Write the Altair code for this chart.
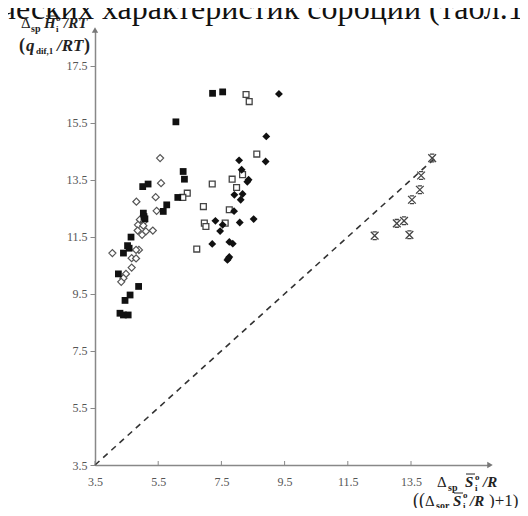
import altair as alt
import pandas as pd

SERIF = "Liberation Serif"

# ---- data ----
fs_x = [6.06, 6.29, 6.33, 6.12, 5.77, 5.66, 5.18, 5.01, 5.03, 5.05, 5.08, 4.64, 4.53, 4.58,
        4.40, 4.24, 4.88, 4.61, 4.45, 4.29, 4.40, 4.55, 7.22, 7.54]
fs_y = [15.53, 13.79, 13.52, 12.88, 12.62, 12.39, 13.35, 13.26, 12.33, 12.21, 12.13, 11.49, 11.19, 11.10,
        10.93, 10.20, 9.76, 9.46, 9.27, 8.82, 8.76, 8.76, 16.53, 16.58]

od_x = [5.56, 5.59, 5.42, 4.81, 5.45, 4.92, 5.05, 4.86, 5.03, 4.85, 5.11, 4.99, 5.33, 4.89,
        4.80, 4.66, 4.80, 4.66, 4.05, 4.48, 4.40, 4.33]
od_y = [14.26, 13.38, 12.89, 12.73, 12.41, 12.10, 12.04, 11.92, 11.89, 11.72, 11.69, 11.57, 11.72, 11.04,
        11.04, 10.75, 10.74, 10.42, 10.93, 10.20, 10.05, 9.92]

os_x = [8.28, 8.38, 8.62, 7.84, 7.21, 8.17, 7.98, 6.93, 7.75, 6.42, 6.28, 6.96, 7.01, 7.62, 6.72]
os_y = [16.49, 16.24, 14.40, 13.52, 13.35, 13.68, 13.23, 12.56, 12.45, 13.03, 12.88, 11.98, 11.86, 11.98, 11.07]

fd_x = [9.32, 8.92, 8.90, 8.06, 8.14, 8.36, 8.32, 7.91, 8.17, 8.11, 7.90, 7.31, 7.54, 7.46,
        8.08, 8.52, 7.21, 7.75, 7.86, 7.75, 7.69, 7.72]
fd_y = [16.51, 15.02, 14.14, 14.18, 13.85, 13.50, 13.43, 12.97, 13.00, 12.80, 12.40, 12.06, 11.92, 11.70,
        12.00, 12.12, 11.25, 11.32, 11.26, 10.79, 10.69, 10.74]

xm_x = [14.17, 13.82, 13.78, 13.53, 13.28, 13.05, 13.45, 12.35]
xm_y = [14.26, 13.65, 13.15, 12.80, 12.06, 11.97, 11.57, 11.54]

diag = [3.5, 14.3]
tick_vals = [3.5, 5.5, 7.5, 9.5, 11.5, 13.5, 15.5, 17.5]
x_tick_vals = [3.5, 5.5, 7.5, 9.5, 11.5, 13.5]
X_MIN, X_MAX = 3.5, 16.0
Y_MIN, Y_MAX = 3.5, 18.75

W, H = 395, 435
PADL, PADT = 87, 22

xs = alt.Scale(domain=[X_MIN, X_MAX], nice=False, zero=False)
ys = alt.Scale(domain=[Y_MIN, Y_MAX], nice=False, zero=False)

def X(field="x"):
    return alt.X(f"{field}:Q", scale=xs,
                 axis=alt.Axis(values=x_tick_vals, format=".1f", title=None, ticks=False,
                               tickSize=0, labelPadding=11, labelFlush=False))

def Y(field="y"):
    return alt.Y(f"{field}:Q", scale=ys,
                 axis=alt.Axis(values=tick_vals, format=".1f", title=None,
                               tickSize=5, labelPadding=3, labelFlush=False))

def pts(xv, yv, **mk):
    return alt.Chart(pd.DataFrame({"x": xv, "y": yv})).mark_point(**mk).encode(x=X(), y=Y())

diag_line = alt.Chart(pd.DataFrame({"x": diag, "y": diag})).mark_line(
    color="#333", strokeWidth=1.6, strokeDash=[6, 5]).encode(x=X(), y=Y())

xticks = alt.Chart(pd.DataFrame({"x": x_tick_vals, "y": [Y_MIN] * len(x_tick_vals)})).mark_rule(
    color="#888", strokeWidth=1).encode(x=X(), y=Y(), y2=alt.value(H - 4))

arrows = alt.layer(
    alt.Chart(pd.DataFrame({"x": [X_MIN], "y": [Y_MAX]})).mark_point(
        shape="triangle-up", filled=True, color="#777", size=40, opacity=1).encode(x=X(), y=Y()),
    alt.Chart(pd.DataFrame({"x": [X_MAX], "y": [Y_MIN]})).mark_point(
        shape="triangle-right", filled=True, color="#777", size=40, opacity=1).encode(x=X(), y=Y()),
)

xshape = "M-1,-1L1,1M1,-1L-1,1M-0.55,-1L0.55,-1M-0.55,1L0.55,1"

layers = [
    diag_line,
    xticks,
    pts(od_x, od_y, shape="diamond", filled=True, fill="white", stroke="#555", strokeWidth=1.2, size=50, opacity=1),
    pts(os_x, os_y, shape="square", filled=True, fill="white", stroke="#444", strokeWidth=1.3, size=34, opacity=1),
    pts(fs_x, fs_y, shape="square", filled=True, color="#111", size=46, opacity=1),
    pts(fd_x, fd_y, shape="diamond", filled=True, color="#111", size=62, opacity=1),
    pts(xm_x, xm_y, shape=xshape, filled=False, stroke="#444", strokeWidth=1.3, size=60, opacity=1),
    arrows,
]

one = pd.DataFrame({"a": [0]})

def txt(s, px, py, size, weight="normal", style="normal", color="#222"):
    return alt.Chart(one).mark_text(
        align="left", baseline="alphabetic", font=SERIF, fontSize=size,
        fontWeight=weight, fontStyle=style, color=color,
    ).encode(x=alt.value(px - 8 - PADL), y=alt.value(py - 8 - PADT), text=alt.value(s))

def bar(px1, px2, py):
    return alt.Chart(one).mark_rule(color="#222", strokeWidth=1).encode(
        x=alt.value(px1 - 8 - PADL), x2=alt.value(px2 - 8 - PADL), y=alt.value(py - 8 - PADT))

texts = [
    txt("ческих характеристик сорбции (табл.1)", 0, 19, 32, color="#111"),
    # y-axis title line 1: Δsp H̄i°/RT
    txt("Δ", 21, 28, 15),
    txt("sp", 31, 32, 10, weight="bold"),
    txt("H", 44, 28, 15, weight="bold", style="italic"),
    bar(46, 56, 16),
    txt("o", 56, 21, 9, weight="bold"),
    txt("i", 56, 32, 9, weight="bold"),
    txt("/RT", 64, 28, 15, weight="bold", style="italic"),
    # y-axis title line 2: (q dif,1/RT)
    txt("(", 19, 51, 18, weight="bold"),
    txt("q", 26, 51, 17, weight="bold", style="italic"),
    txt("dif,1", 36, 54, 9, weight="bold"),
    txt("/RT", 57, 51, 17, weight="bold", style="italic"),
    txt(")", 84, 51, 18, weight="bold"),
    # x-axis title line 1: Δsp S̄i°/R
    txt("Δ", 437, 487, 15),
    txt("sp", 448, 491, 10, weight="bold"),
    txt("S", 465, 487, 15, weight="bold", style="italic"),
    bar(466, 475, 474),
    txt("o", 475, 480, 9, weight="bold"),
    txt("i", 475, 491, 9, weight="bold"),
    txt("/R", 483, 487, 15, weight="bold", style="italic"),
    # x-axis title line 2: ((Δsor S̄i°/R)+1)
    txt("((", 413, 506, 18),
    txt("Δ", 425, 506, 15),
    txt("sor", 436, 509, 10, weight="bold"),
    txt("S", 453, 506, 15, weight="bold", style="italic"),
    bar(454, 463, 493),
    txt("o", 463, 498, 9, weight="bold"),
    txt("i", 463, 509, 9, weight="bold"),
    txt("/R", 470, 506, 15, weight="bold", style="italic"),
    txt(")+1)", 489, 506, 17),
]

chart = alt.layer(*layers, *texts).properties(
    width=W, height=H,
    padding={"left": PADL, "top": PADT, "right": 512 - PADL - W, "bottom": 500 - PADT - H},
    autosize=alt.AutoSizeParams(type="none"),
    background="white",
).configure_view(stroke=None).configure_axis(
    grid=False, domainColor="#888", domainWidth=1.5, tickColor="#888", tickWidth=1,
    labelFont=SERIF, labelFontSize=12, labelColor="#555",
)

chart.save("out.html", embed_options={"renderer": "svg", "actions": False})
